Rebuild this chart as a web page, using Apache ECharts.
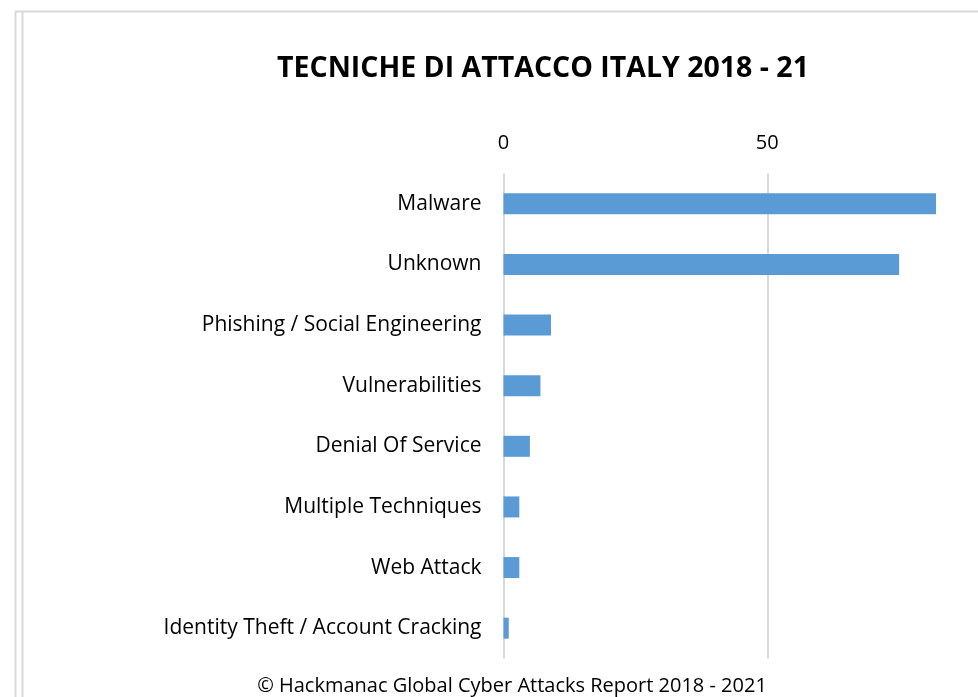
<!DOCTYPE html>
<html>
<head>
<meta charset="utf-8">
<script src="https://cdn.jsdelivr.net/npm/echarts@6/dist/echarts.min.js"></script>
<style>
html,body{margin:0;padding:0;background:#fff;}
#c{width:978px;height:697px;}
</style>
</head>
<body>
<div id="c"></div>
<script>
const categories = ["Malware","Unknown","Phishing / Social Engineering","Vulnerabilities","Denial Of Service","Multiple Techniques","Web Attack","Identity Theft / Account Cracking"];
const values = [82, 75, 9, 7, 5, 3, 3, 1];
const titleText = "TECNICHE DI ATTACCO ITALY 2018 - 21";
const footerText = "\u00A9 Hackmanac Global Cyber Attacks Report 2018 - 2021";

const chart = echarts.init(document.getElementById('c'), null, {renderer:'canvas'});
const FONT = "Open Sans";
chart.setOption({
  backgroundColor:'#fff',
  animation:false,
  title:{
    text:titleText, left:538, top:64, textAlign:'center', textVerticalAlign:'middle',
    textStyle:{fontFamily:FONT, fontWeight:'bold', fontSize:28.5, color:'#000'}
  },
  grid:{left:503.5, top:173.5, right:-53, bottom:38.5, containLabel:false, outerBoundsMode:'none'},
  xAxis:{
    type:'value', position:'top', min:0, max:100, interval:50,
    axisLine:{show:false}, axisTick:{show:false},
    axisLabel:{fontFamily:FONT, fontSize:20, color:'#000', margin:20},
    splitLine:{lineStyle:{color:'#d9d9d9', width:2}}
  },
  yAxis:{
    type:'category', inverse:true, data:categories,
    axisLine:{show:false}, axisTick:{show:false},
    axisLabel:{fontFamily:FONT, fontSize:21, color:'#000', margin:22}
  },
  series:[{
    type:'bar', data:values, barWidth:21,
    itemStyle:{color:'#5b9bd5'}
  }],
  graphic:[
    {type:'line', shape:{x1:15.5,y1:12,x2:15.5,y2:697}, style:{stroke:'#d9d9d9', lineWidth:2}},
    {type:'line', shape:{x1:22.5,y1:11,x2:22.5,y2:697}, style:{stroke:'#d9d9d9', lineWidth:2}},
    {type:'line', shape:{x1:15,y1:11.5,x2:978,y2:11.5}, style:{stroke:'#d9d9d9', lineWidth:2}},
    {type:'text', style:{text:footerText, x:512, y:686, textAlign:'center', textVerticalAlign:'middle', fontFamily:FONT, fontSize:20, fill:'#000'}}
  ]
});
</script>
</body>
</html>
